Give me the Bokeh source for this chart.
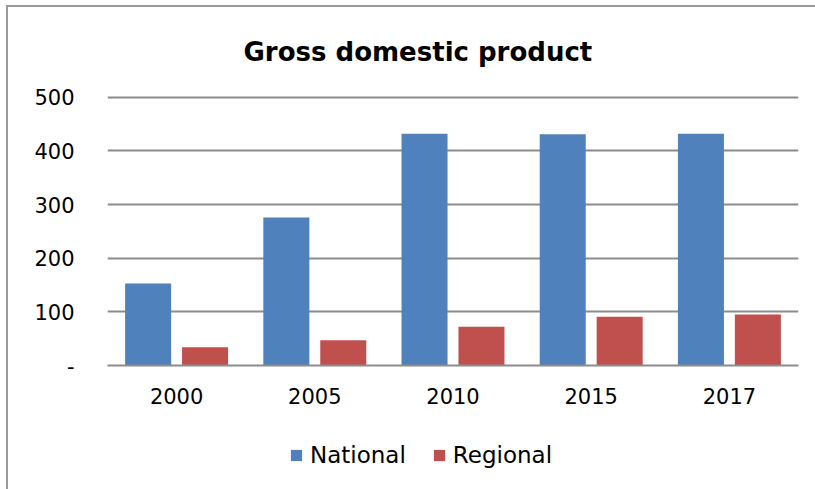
from bokeh.plotting import figure
from bokeh.layouts import column
from bokeh.models import (ColumnDataSource, FactorRange, Range1d, FixedTicker,
                          Legend, LegendItem)
from bokeh.transform import dodge
from bokeh.embed import file_html
from bokeh.resources import INLINE

years = ["2000", "2005", "2010", "2015", "2017"]
national = [153, 276, 432, 431, 432]
regional = [34, 47, 72, 91, 95]
y_ticks = [0, 100, 200, 300, 400, 500]
series_names = ["National", "Regional"]
series_fields = ["national", "regional"]
series_colors = ["#4F81BD", "#C0504D"]
title_text = "Gross domestic product"

FONT = "DejaVu Sans"
GRID = "#8c8c8c"

src = ColumnDataSource(dict(year=years, national=national, regional=regional))

p = figure(width=807, height=413, output_backend="svg", toolbar_location=None,
           x_range=FactorRange(factors=years, range_padding=0, factor_padding=0),
           y_range=Range1d(0, 505),
           min_border_left=99, min_border_right=17, min_border_top=87,
           min_border_bottom=55)
p.outline_line_color = None
p.background_fill_color = "white"
p.border_fill_color = "white"

p.title.text = title_text
p.title.text_font = FONT
p.title.text_font_size = "26px"
p.title.text_font_style = "bold"
p.title.text_color = "black"
p.title.align = "left"
p.title.offset = 136
p.title.vertical_align = "top"
p.title.standoff = 52

offsets = [-0.206, 0.206]
for fld, col, off in zip(series_fields, series_colors, offsets):
    p.vbar(x=dodge("year", off, range=p.x_range), top=fld, width=0.333,
           source=src, fill_color=col, line_color=None)

ya = p.yaxis[0]
ya.ticker = FixedTicker(ticks=y_ticks)
ya.major_label_overrides = {0: "-"}
ya.axis_line_color = None
ya.major_tick_line_color = None
ya.minor_tick_line_color = None
ya.major_tick_out = 0
ya.major_label_standoff = 33
ya.major_label_text_font = FONT
ya.major_label_text_font_size = "21px"
ya.major_label_text_color = "black"

xa = p.xaxis[0]
xa.axis_line_color = GRID
xa.axis_line_width = 2
xa.major_tick_line_color = None
xa.minor_tick_line_color = None
xa.major_tick_out = 0
xa.major_label_standoff = 22
xa.major_label_text_font = FONT
xa.major_label_text_font_size = "21px"
xa.major_label_text_color = "black"

p.xgrid.grid_line_color = None
p.ygrid.ticker = FixedTicker(ticks=y_ticks)
p.ygrid.grid_line_color = GRID
p.ygrid.grid_line_width = 2

# legend strip: same series as hidden renderers, only the legend keys show
lg = figure(width=807, height=69, output_backend="svg", toolbar_location=None,
            x_range=p.x_range, y_range=p.y_range,
            x_axis_type=None, y_axis_type=None, min_border=0)
lg.outline_line_color = None
lg.grid.visible = False
lg.border_fill_color = "white"
lg.background_fill_color = "white"
items = []
for name, fld, col, off in zip(series_names, series_fields, series_colors, offsets):
    r = lg.vbar(x=dodge("year", off, range=lg.x_range), top=fld, width=0.333,
                source=src, fill_color=col, line_color=None)
    r.visible = False
    items.append(LegendItem(label=name, renderers=[r]))

legend = Legend(items=items, orientation="horizontal", location=(182, 21),
                padding=0, margin=0, spacing=26, label_standoff=7,
                glyph_width=14, glyph_height=14, label_height=14,
                border_line_color=None, background_fill_alpha=0,
                inactive_fill_alpha=0,
                label_text_font=FONT, label_text_font_size="23px",
                label_text_color="black")
lg.add_layout(legend, "center")

layout = column(p, lg, spacing=0)
layout.styles = {"border-left": "2px solid #9a9a9a", "border-top": "2px solid #9a9a9a",
                 "margin-left": "6px", "margin-top": "5px"}

open("out.html", "w").write(file_html(layout, INLINE))
